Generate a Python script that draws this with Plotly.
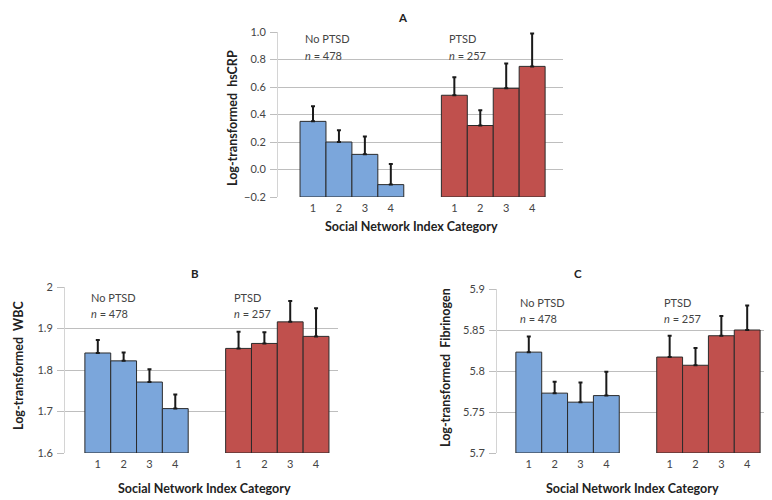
import plotly.graph_objects as go
import numpy as np

categories = ["1", "2", "3", "4"]

# Panel A: Log-transformed hsCRP
a_no_ptsd = [0.35, 0.20, 0.11, -0.11]
a_no_ptsd_err = [0.11, 0.085, 0.13, 0.15]
a_ptsd = [0.54, 0.32, 0.59, 0.75]
a_ptsd_err = [0.13, 0.11, 0.18, 0.24]

# Panel B: Log-transformed WBC
b_no_ptsd = [1.841, 1.822, 1.771, 1.707]
b_no_ptsd_err = [0.031, 0.020, 0.031, 0.034]
b_ptsd = [1.852, 1.864, 1.916, 1.881]
b_ptsd_err = [0.040, 0.027, 0.050, 0.068]

# Panel C: Log-transformed Fibrinogen
c_no_ptsd = [5.823, 5.773, 5.762, 5.770]
c_no_ptsd_err = [0.019, 0.014, 0.024, 0.029]
c_ptsd = [5.817, 5.807, 5.843, 5.850]
c_ptsd_err = [0.026, 0.021, 0.024, 0.030]

# page is 772x500; the html body adds an 8px margin, so the figure is 8px smaller
OFF = 8
W, H = 772 - OFF, 500 - OFF


def fx(p):
    return (p - OFF) / W


def fy(p):
    return 1 - (p - OFF) / H


BLUE = "#7BA6DB"
RED = "#C0504D"
EDGE = "#2b2b2b"
GRID = "#BEBEBE"
FONT = "Lato"

blue_pos = np.arange(1, 5)
red_pos = np.arange(1, 5) + 5.45

panels = [
    dict(key="", no=a_no_ptsd, no_err=a_no_ptsd_err, pt=a_ptsd, pt_err=a_ptsd_err,
         ymin=-0.2, ymax=1.0, dtick=0.2, fmt=".1f",
         px=(278, 563), py=(32, 197), xr=(-0.35, 10.64),
         title="A", title_xy=(403, 18), ytitle="Log-transformed  hsCRP", ytitle_xy=(232, 118),
         xtitle_xy=(412, 226), labels=((303, 39), (447, 39))),
    dict(key="2", no=b_no_ptsd, no_err=b_no_ptsd_err, pt=b_ptsd, pt_err=b_ptsd_err,
         ymin=1.6, ymax=2.0, dtick=0.1, fmt="",
         px=(65, 338), py=(287, 453), xr=(-0.27, 10.30),
         title="B", title_xy=(195, 273), ytitle="Log-transformed  WBC", ytitle_xy=(18, 366),
         xtitle_xy=(205, 488), labels=((89, 297), (232, 297))),
    dict(key="3", no=c_no_ptsd, no_err=c_no_ptsd_err, pt=c_ptsd, pt_err=c_ptsd_err,
         ymin=5.7, ymax=5.9, dtick=0.05, fmt="",
         px=(497, 772), py=(289, 453), xr=(-0.23, 10.41),
         title="C", title_xy=(578, 273), ytitle="Log-transformed  Fibrinogen", ytitle_xy=(445, 368),
         xtitle_xy=(632, 488), labels=((518, 302), (662, 302))),
]

fig = go.Figure()
annotations = []
layout = {}


def ann(text, x, y, size=10, color="#444", xanchor="center", angle=0):
    return dict(text=text, x=fx(x), y=fy(y), xref="paper", yref="paper",
                xanchor=xanchor, yanchor="middle", showarrow=False, textangle=angle,
                font=dict(family=FONT, size=size, color=color))


for p in panels:
    k = p["key"]
    base = p["ymin"]
    for pos, vals, errs, col in [(blue_pos, p["no"], p["no_err"], BLUE),
                                 (red_pos, p["pt"], p["pt_err"], RED)]:
        fig.add_trace(go.Bar(
            x=pos, y=[v - base for v in vals], base=base, width=1,
            marker=dict(color=col, line=dict(color=EDGE, width=1)),
            error_y=dict(type="data", array=errs, arrayminus=[0] * len(errs), symmetric=False,
                         color="#1a1a1a", thickness=2, width=2),
            xaxis="x" + k, yaxis="y" + k, showlegend=False, hoverinfo="skip"))
    x0, x1 = p["px"]
    y0, y1 = p["py"]
    layout["xaxis" + k] = dict(
        domain=[fx(x0), min(1.0, fx(x1))], range=list(p["xr"]), anchor="y" + k,
        tickmode="array", tickvals=list(blue_pos) + list(red_pos), ticktext=categories * 2,
        showgrid=False, zeroline=False, showline=False, ticks="",
        ticklabelstandoff=3,
        tickfont=dict(family=FONT, size=11, color="#444"), fixedrange=True)
    layout["yaxis" + k] = dict(
        domain=[fy(y1), fy(y0)], range=[p["ymin"], p["ymax"]], anchor="x" + k,
        dtick=p["dtick"], tick0=p["ymin"], tickformat=p["fmt"],
        showgrid=True, gridcolor=GRID, gridwidth=1, zeroline=False,
        showline=True, linecolor="#D4D4D4", linewidth=1,
        ticks="outside", ticklen=7, tickcolor=GRID, tickwidth=1,
        ticklabelstandoff=2,
        tickfont=dict(family=FONT, size=11, color="#444"), fixedrange=True)
    tx, ty = p["title_xy"]
    annotations.append(ann("<b>%s</b>" % p["title"], tx, ty, size=11.5, color="#222"))
    yx, yy = p["ytitle_xy"]
    annotations.append(ann("<b>%s</b>" % p["ytitle"], yx, yy, size=12.5, color="#222", angle=-90))
    xx, xy = p["xtitle_xy"]
    annotations.append(ann("<b>Social Network Index Category</b>", xx, xy, size=12.5, color="#222"))
    (lx1, ly1), (lx2, ly2) = p["labels"]
    for lx, ly, grp, n in [(lx1, ly1, "No PTSD", "478"), (lx2, ly2, "PTSD", "257")]:
        annotations.append(ann(grp, lx, ly, size=11, xanchor="left"))
        annotations.append(ann("<i>n</i> = %s" % n, lx, ly + 16, size=11, xanchor="left"))

fig.update_layout(
    width=W, height=H, margin=dict(l=0, r=0, t=0, b=0, autoexpand=False),
    paper_bgcolor="white", plot_bgcolor="white", barmode="overlay",
    annotations=annotations, **layout)

fig.write_html("out.html")
